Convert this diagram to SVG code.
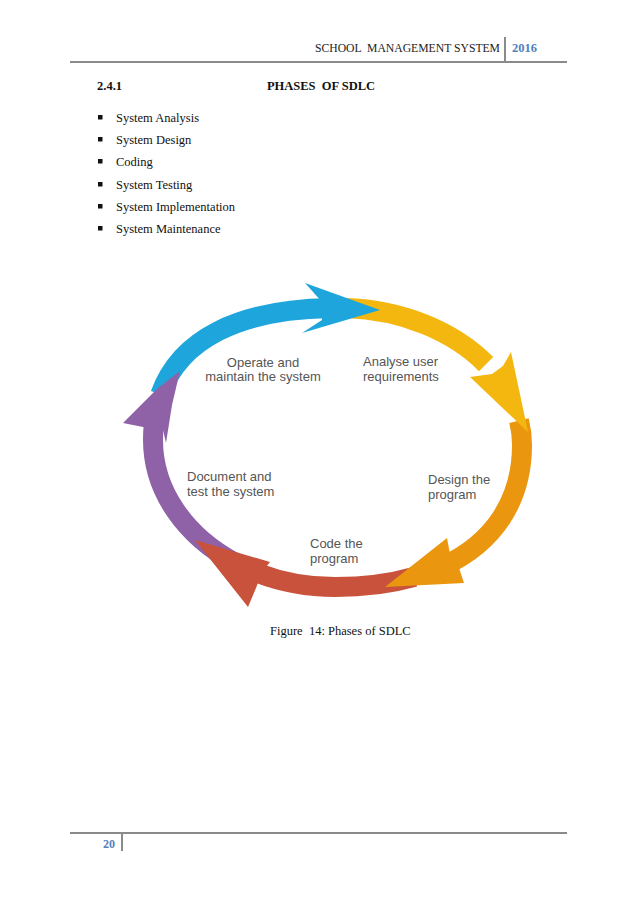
<svg xmlns="http://www.w3.org/2000/svg" width="638" height="903" viewBox="0 0 638 903">
<defs>
<style>
text{white-space:pre}
.hdr{font-family:"Liberation Serif","Times New Roman",serif;font-size:11.5px;fill:#222}
.blue{font-family:"Liberation Serif","Times New Roman",serif;font-weight:bold;fill:#4F81BD}
.body{font-family:"Liberation Serif","Times New Roman",serif;font-size:12.5px;fill:#111}
.bold{font-weight:bold}
.lbl{font-family:"Liberation Sans",Arial,sans-serif;font-size:13px;fill:#555}
.rule{stroke:#8a8a8a;stroke-width:2;fill:none}
.band{fill:none;stroke-width:20;stroke-linecap:butt}
</style>
</defs>
<rect width="638" height="903" fill="#fff"/>
<g id="header">
<text class="hdr" x="315" y="52" textLength="185" lengthAdjust="spacingAndGlyphs">SCHOOL  MANAGEMENT SYSTEM</text>
<line class="rule" x1="505" y1="37" x2="505" y2="62"/>
<text class="blue" x="512" y="52" font-size="12.5">2016</text>
<line class="rule" x1="70" y1="62" x2="567" y2="62"/>
</g>
<g id="heading">
<text class="body bold" x="97" y="90">2.4.1</text>
<text class="body bold" x="267" y="90" textLength="108" lengthAdjust="spacing">PHASES  OF SDLC</text>
</g>
<g id="bullets">
<rect x="98" y="115" width="4.5" height="4.5" fill="#111"/>
<text class="body" x="116" y="122">System Analysis</text>
<rect x="98" y="137" width="4.5" height="4.5" fill="#111"/>
<text class="body" x="116" y="144">System Design</text>
<rect x="98" y="159" width="4.5" height="4.5" fill="#111"/>
<text class="body" x="116" y="166">Coding</text>
<rect x="98" y="182" width="4.5" height="4.5" fill="#111"/>
<text class="body" x="116" y="189">System Testing</text>
<rect x="98" y="204" width="4.5" height="4.5" fill="#111"/>
<text class="body" x="116" y="211">System Implementation</text>
<rect x="98" y="226" width="4.5" height="4.5" fill="#111"/>
<text class="body" x="116" y="233">System Maintenance</text>
</g>
<g id="connectors">
<path class="band" stroke="#1EA6DC" pathLength="1000" stroke-dasharray="0 45 197 2000" d="M153,440 C153,354 218,308 338,308 C439,308 522,370 522,445 C522,533 451,587 335,587 C235,587 153,521 153,440 Z"/>
<path class="band" stroke="#F4B70F" pathLength="1000" stroke-dasharray="0 256 150 2000" d="M153,440 C153,354 218,308 338,308 C439,308 522,370 522,445 C522,533 451,587 335,587 C235,587 153,521 153,440 Z"/>
<path class="band" stroke="#EA960F" pathLength="1000" stroke-dasharray="0 470 172 2000" d="M153,440 C153,354 218,308 338,308 C439,308 522,370 522,445 C522,533 451,587 335,587 C235,587 153,521 153,440 Z"/>
<path class="band" stroke="#C8523C" pathLength="1000" stroke-dasharray="0 672 154 2000" d="M153,440 C153,354 218,308 338,308 C439,308 522,370 522,445 C522,533 451,587 335,587 C235,587 153,521 153,440 Z"/>
<path class="band" stroke="#8F62A8" pathLength="1000" stroke-dasharray="14 836 150 2000" d="M153,440 C153,354 218,308 338,308 C439,308 522,370 522,445 C522,533 451,587 335,587 C235,587 153,521 153,440 Z"/>
<path d="M380,310 L305,283 L322,302 L322,320 L302,333 Z" fill="#1EA6DC"/>
<path d="M528,432 L511,352 L503,366 L492,374 L470,377 Z" fill="#F4B70F"/>
<path d="M385,587 L447,538 L450,554 L459,568 L464,583 Z" fill="#EA960F"/>
<path d="M195,540 L270,562 L262,572 L256,588 L248,607 Z" fill="#C8523C"/>
<path d="M180,371 L158,388 L123,423 L143,427 L163,430 L166,443 L172,405 Z" fill="#8F62A8"/>
</g>
<g id="node-operate">
<text class="lbl" x="263" y="367" text-anchor="middle">Operate and</text>
<text class="lbl" x="263" y="381" text-anchor="middle">maintain the system</text>
</g>
<g id="node-analyse">
<text class="lbl" x="363" y="366">Analyse user</text>
<text class="lbl" x="363" y="381">requirements</text>
</g>
<g id="node-design">
<text class="lbl" x="428" y="484">Design the</text>
<text class="lbl" x="428" y="499">program</text>
</g>
<g id="node-code">
<text class="lbl" x="310" y="548">Code the</text>
<text class="lbl" x="310" y="563">program</text>
</g>
<g id="node-document">
<text class="lbl" x="187" y="481">Document and</text>
<text class="lbl" x="187" y="496">test the system</text>
</g>
<g id="caption">
<text class="body" x="270" y="635">Figure  14: Phases of SDLC</text>
</g>
<g id="footer">
<line class="rule" x1="70" y1="833" x2="567" y2="833"/>
<line class="rule" x1="122" y1="833" x2="122" y2="851"/>
<text class="blue" x="103" y="848" font-size="12">20</text>
</g>
</svg>
